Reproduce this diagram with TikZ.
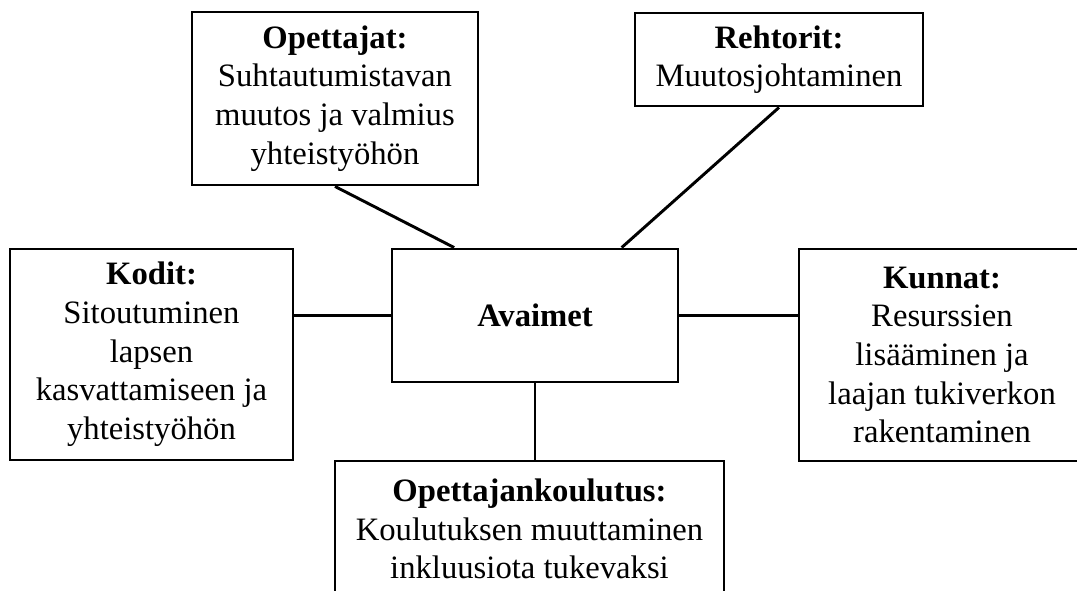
\documentclass[tikz,border=0pt]{standalone}
\usepackage{fontspec}
\setmainfont{Liberation Serif}
\usetikzlibrary{calc}

\begin{document}
\begin{tikzpicture}[
    x=0.75pt, y=-0.75pt,
    every node/.style={font=\fontsize{24.5}{29}\selectfont},
    keybox/.style={draw, line width=2.2pt, align=center, inner sep=0pt},
    link/.style={line width=2.2pt}
  ]
  \clip (0,0) rectangle (1077,591);
  \node [keybox, minimum width=214.5pt, minimum height=99.75pt] (avaimet) at (535,315.5)
    {\textbf{Avaimet}};
  \node [keybox, minimum width=214.5pt, minimum height=129.75pt] (opettajat) at (335,98.5)
    {\textbf{Opettajat:}\\ Suhtautumistavan\\ muutos ja valmius\\ yhteistyöhön};
  \node [keybox, minimum width=216pt, minimum height=69.75pt] (rehtorit) at (779,59.5)
    {\textbf{Rehtorit:}\\ Muutosjohtaminen};
  \node [keybox, minimum width=212.25pt, minimum height=158.25pt] (kodit) at (151.5,354.5)
    {\textbf{Kodit:}\\ Sitoutuminen\\ lapsen\\ kasvattamiseen ja\\ yhteistyöhön};
  \node [keybox, minimum width=214.5pt, minimum height=159pt] (kunnat) at (942,355)
    {\textbf{Kunnat:}\\ Resurssien\\ lisääminen ja\\ laajan tukiverkon\\ rakentaminen};
  \node [keybox, minimum width=291.75pt, minimum height=102pt] (koulutus) at (529.5,529)
    {\textbf{Opettajankoulutus:}\\ Koulutuksen muuttaminen\\ inkluusiota tukevaksi};
  % connectors
  \draw [link] (opettajat.south) -- ($(avaimet.north west)!0.22!(avaimet.north east)$);
  \draw [link] (rehtorit.south) -- ($(avaimet.north west)!0.80!(avaimet.north east)$);
  \draw [link] (avaimet.west) -- (avaimet.west -| kodit.east);
  \draw [link] (avaimet.east) -- (avaimet.east -| kunnat.west);
  \draw [link] (avaimet.south) -- (avaimet.south |- koulutus.north);
\end{tikzpicture}
\end{document}
